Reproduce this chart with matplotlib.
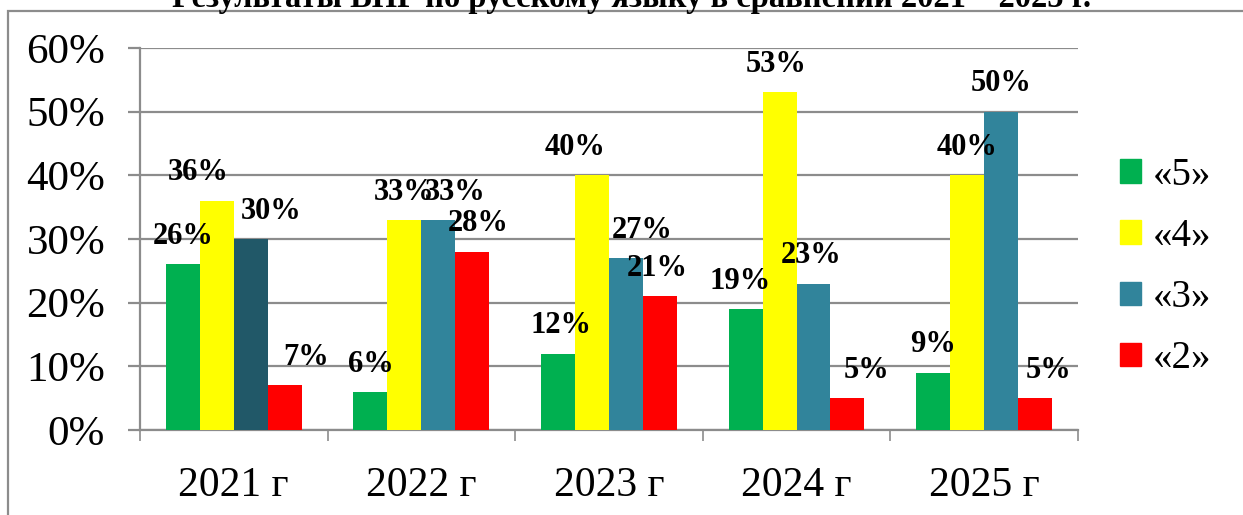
import matplotlib
matplotlib.use('Agg')
from matplotlib import pyplot as plt
from matplotlib.patches import Rectangle
import numpy as np

plt.rcParams['font.family'] = ['Liberation Serif', 'DejaVu Serif']

# data
years = ['2021 г', '2022 г', '2023 г', '2024 г', '2025 г']
grades = ['«5»', '«4»', '«3»', '«2»']
grade5 = [26, 6, 12, 19, 9]
grade4 = [36, 33, 40, 53, 40]
grade3 = [30, 33, 27, 23, 50]
grade2 = [7, 28, 21, 5, 5]
title = 'Результаты ВПР по русскому языку в сравнении 2021 – 2025 г.'

series = [grade5, grade4, grade3, grade2]
colors = ['#00B050', '#FFFF00', '#31849B', '#FF0000']
# label nudges (px) to mimic the original label placement
nudges = [[0, 0, 3, -5, 0],
          [-19, 0, -17, -3, 0],
          [20, 17, 16, -2, 0],
          [21, 6, -3, 19, 13]]

fig = plt.figure(figsize=(12.43, 5.15), dpi=100)
ax = fig.add_axes([0.1126, 0.165, 0.7546, 0.742])

x = np.arange(len(years))
w = 0.181
grid_c = '#8C8C8C'
for k, vals in enumerate(series):
    pos = x + (k - 1.5) * w
    bars = ax.bar(pos, vals, width=w, color=colors[k], zorder=3)
    if k == 2:
        bars[0].set_facecolor('#215868')
    for j, b in enumerate(bars):
        ax.annotate(f'{vals[j]}%', (b.get_x() + b.get_width() / 2, b.get_height()),
                    xytext=(nudges[k][j] * 0.72, 20), textcoords='offset points',
                    ha='center', va='center', fontsize=22, fontweight='bold', zorder=5)

ax.set_ylim(0, 60)
ax.set_xlim(-0.5, len(years) - 0.5)
ax.set_yticks(range(0, 61, 10))
ax.set_yticklabels([f'{v}%' for v in range(0, 61, 10)], fontsize=31)
ax.yaxis.grid(True, color=grid_c, lw=1.6, zorder=0)
ax.tick_params(axis='y', length=9, width=1.6, color=grid_c, pad=16)

ax.set_xticks(x)
ax.set_xticklabels(years, fontsize=30)
ax.set_xticks(np.arange(-0.5, len(years)), minor=True)
ax.tick_params(axis='x', which='major', length=0, pad=26)
ax.tick_params(axis='x', which='minor', length=8, width=1.2, color=grid_c)

for s in ['top', 'right']:
    ax.spines[s].set_visible(False)
for s in ['left', 'bottom']:
    ax.spines[s].set_color(grid_c)
    ax.spines[s].set_linewidth(1.6)

handles = [Rectangle((0, 0), 1, 1, color=c) for c in colors]
fig.legend(handles, grades, loc='center left', bbox_to_anchor=(1120 / 1243, 248 / 515),
           frameon=False, fontsize=28, handlelength=0.55, handleheight=0.55,
           handletextpad=0.3, labelspacing=0.62, borderpad=0, borderaxespad=0)

# outer chart frame, cut off at right and bottom
fig.patches.append(Rectangle((8 / 1243, -0.05), 1.1, (504 / 515) + 0.05,
                             transform=fig.transFigure, fill=False,
                             edgecolor='#8C8C8C', lw=1.6))

# title, mostly cut off by the top edge as in the original
fig.text(632 / 1243, 1 - 7 / 515, title, ha='center', va='baseline',
         fontsize=23.5, fontweight='bold')

plt.savefig('out.png', dpi=100)
